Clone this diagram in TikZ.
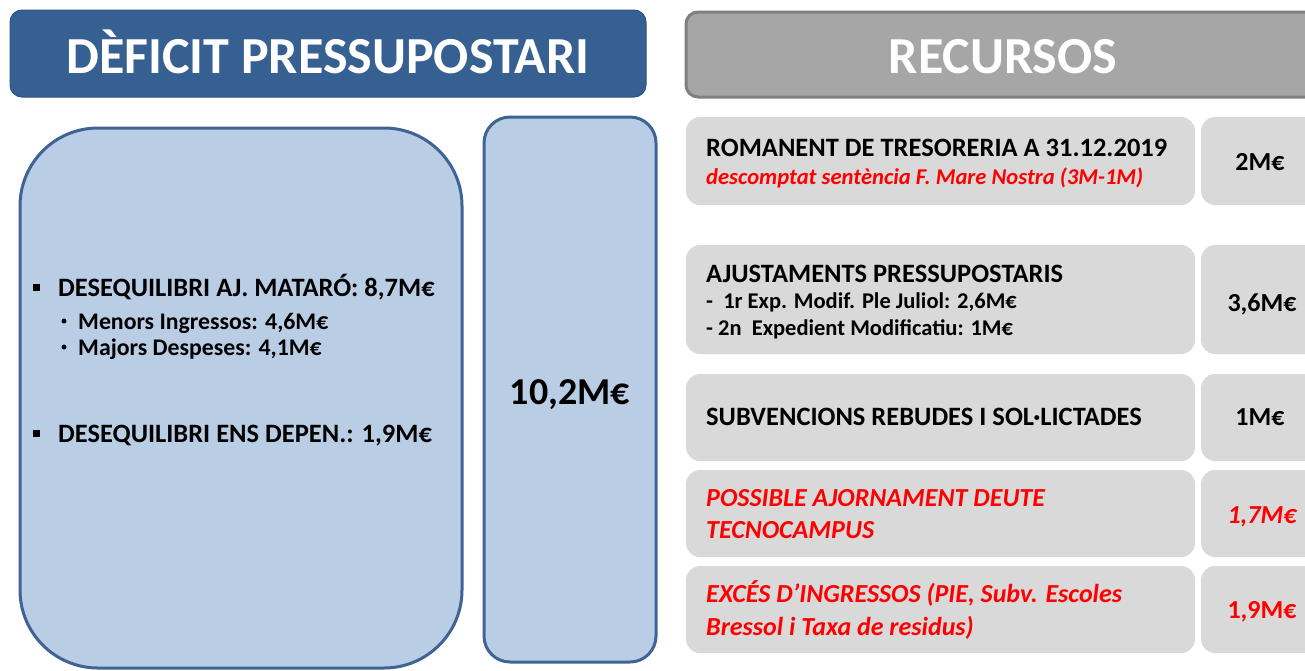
\documentclass[tikz,border=0pt]{standalone}
\usepackage{fontspec}
\setmainfont{Carlito}
\definecolor{hdrblue}{RGB}{55,96,146}
\definecolor{hdrblueb}{RGB}{47,84,130}
\definecolor{hdrgray}{RGB}{166,166,166}
\definecolor{hdrgrayb}{RGB}{127,127,127}
\definecolor{boxfill}{RGB}{185,205,229}
\definecolor{boxline}{RGB}{62,99,148}
\definecolor{lgray}{RGB}{217,217,217}
\definecolor{red0}{RGB}{255,0,0}
\tikzset{
  bluehdr/.style={draw=hdrblueb, line width=1pt, fill=hdrblue, rounded corners=12pt, inner sep=0pt},
  grayhdr/.style={draw=hdrgrayb, line width=3pt, fill=hdrgray, rounded corners=12pt, inner sep=0pt},
  bluebox/.style={draw=boxline, line width=3pt, fill=boxfill, inner sep=0pt},
  gbox/.style={fill=lgray, rounded corners=14pt, inner sep=0pt},
  txt/.style={inner sep=0pt, anchor=base west},
  ctxt/.style={inner sep=0pt, anchor=base},
  bigf/.style={font=\fontsize{26.5}{30}\selectfont\bfseries},
  subf/.style={font=\fontsize{23.8}{26}\selectfont\bfseries},
  subr/.style={font=\fontsize{22.5}{26}\selectfont\bfseries},
  redf/.style={text=red0, font=\fontsize{22.6}{26}\selectfont\bfseries\itshape},
  redbig/.style={text=red0, font=\fontsize{26}{30}\selectfont\bfseries\itshape},
  valf/.style={font=\fontsize{26}{30}\selectfont\bfseries},
  sqbul/.style={fill=black, minimum size=7pt, inner sep=0pt},
  dotbul/.style={circle, fill=black, minimum size=5pt, inner sep=0pt}
}
\begin{document}
\begin{tikzpicture}[x=1pt,y=-1pt]
\clip (0,0) rectangle (1305,670);
\fill[white] (0,0) rectangle (1305,670);

% headers
\node[bluehdr, minimum width=636, minimum height=87] (defhdr) at (328,53.5) {};
\node[ctxt, text=white, font=\fontsize{52}{60}\selectfont\bfseries] (deftxt) at (328,73) {DÈFICIT PRESSUPOSTARI};
\node[grayhdr, minimum width=640, minimum height=85] (rechdr) at (1006,54.5) {};
\node[ctxt, text=white, font=\fontsize{52}{60}\selectfont\bfseries] (rectxt) at (1003,73) {RECURSOS};

% left boxes
\node[bluebox, rounded corners=78pt, minimum width=442, minimum height=540] (bigbox) at (241,398) {};
\node[bluebox, rounded corners=26pt, minimum width=172, minimum height=545] (totbox) at (570,389.5) {};
\node[ctxt, font=\fontsize{38}{44}\selectfont\bfseries] (tot) at (570,404) {10,2M€};

\node[sqbul] (sq1) at (36,287) {};
\node[txt, bigf] (l1) at (58,296) {DESEQUILIBRI AJ. MATARÓ: 8,7M€};
\node[dotbul] (b1) at (64,321) {};
\node[txt, subf] (l1a) at (78,329) {Menors Ingressos: 4,6M€};
\node[dotbul] (b2) at (64,347) {};
\node[txt, subf] (l1b) at (78,355) {Majors Despeses: 4,1M€};
\node[sqbul] (sq2) at (36,433) {};
\node[txt, bigf] (l2) at (58,442) {DESEQUILIBRI ENS DEPEN.: 1,9M€};

% right rows
\node[gbox, minimum width=509, minimum height=88] (r1l) at (940.5,161) {};
\node[gbox, minimum width=124, minimum height=88] (r1v) at (1263,161) {};
\node[gbox, minimum width=509, minimum height=109] (r2l) at (940.5,299.5) {};
\node[gbox, minimum width=124, minimum height=109] (r2v) at (1263,299.5) {};
\node[gbox, minimum width=509, minimum height=87] (r3l) at (940.5,417.5) {};
\node[gbox, minimum width=124, minimum height=87] (r3v) at (1263,417.5) {};
\node[gbox, minimum width=509, minimum height=87] (r4l) at (940.5,513.5) {};
\node[gbox, minimum width=124, minimum height=87] (r4v) at (1263,513.5) {};
\node[gbox, minimum width=509, minimum height=87] (r5l) at (940.5,609.5) {};
\node[gbox, minimum width=124, minimum height=87] (r5v) at (1263,609.5) {};

\node[txt, bigf] (t1a) at (706,156) {ROMANENT DE TRESORERIA A 31.12.2019};
\node[txt, redf] (t1b) at (706,184) {descomptat sentència F. Mare Nostra (3M-1M)};
\node[ctxt, valf] (v1) at (1260,170) {2M€};

\node[txt, bigf] (t2a) at (706,282) {AJUSTAMENTS PRESSUPOSTARIS};
\node[txt, subr] (t2b) at (706,308) {-\ \ 1r Exp. Modif. Ple Juliol: 2,6M€};
\node[txt, subr] (t2c) at (706,335) {- 2n\ \ Expedient Modificatiu: 1M€};
\node[ctxt, valf] (v2) at (1262,311) {3,6M€};

\node[txt, bigf] (t3) at (706,425) {SUBVENCIONS REBUDES I SOL·LICTADES};
\node[ctxt, valf] (v3) at (1260,425) {1M€};

\node[txt, redbig] (t4a) at (706,506) {POSSIBLE AJORNAMENT DEUTE};
\node[txt, redbig] (t4b) at (706,538) {TECNOCAMPUS};
\node[ctxt, text=red0, font=\fontsize{26}{30}\selectfont\bfseries\itshape] (v4) at (1262,523) {1,7M€};

\node[txt, redbig] (t5a) at (706,602) {EXCÉS D’INGRESSOS (PIE, Subv. Escoles};
\node[txt, redbig] (t5b) at (706,635) {Bressol i Taxa de residus)};
\node[ctxt, valf, text=red0] (v5) at (1262,618) {1,9M€};
\end{tikzpicture}
\end{document}
